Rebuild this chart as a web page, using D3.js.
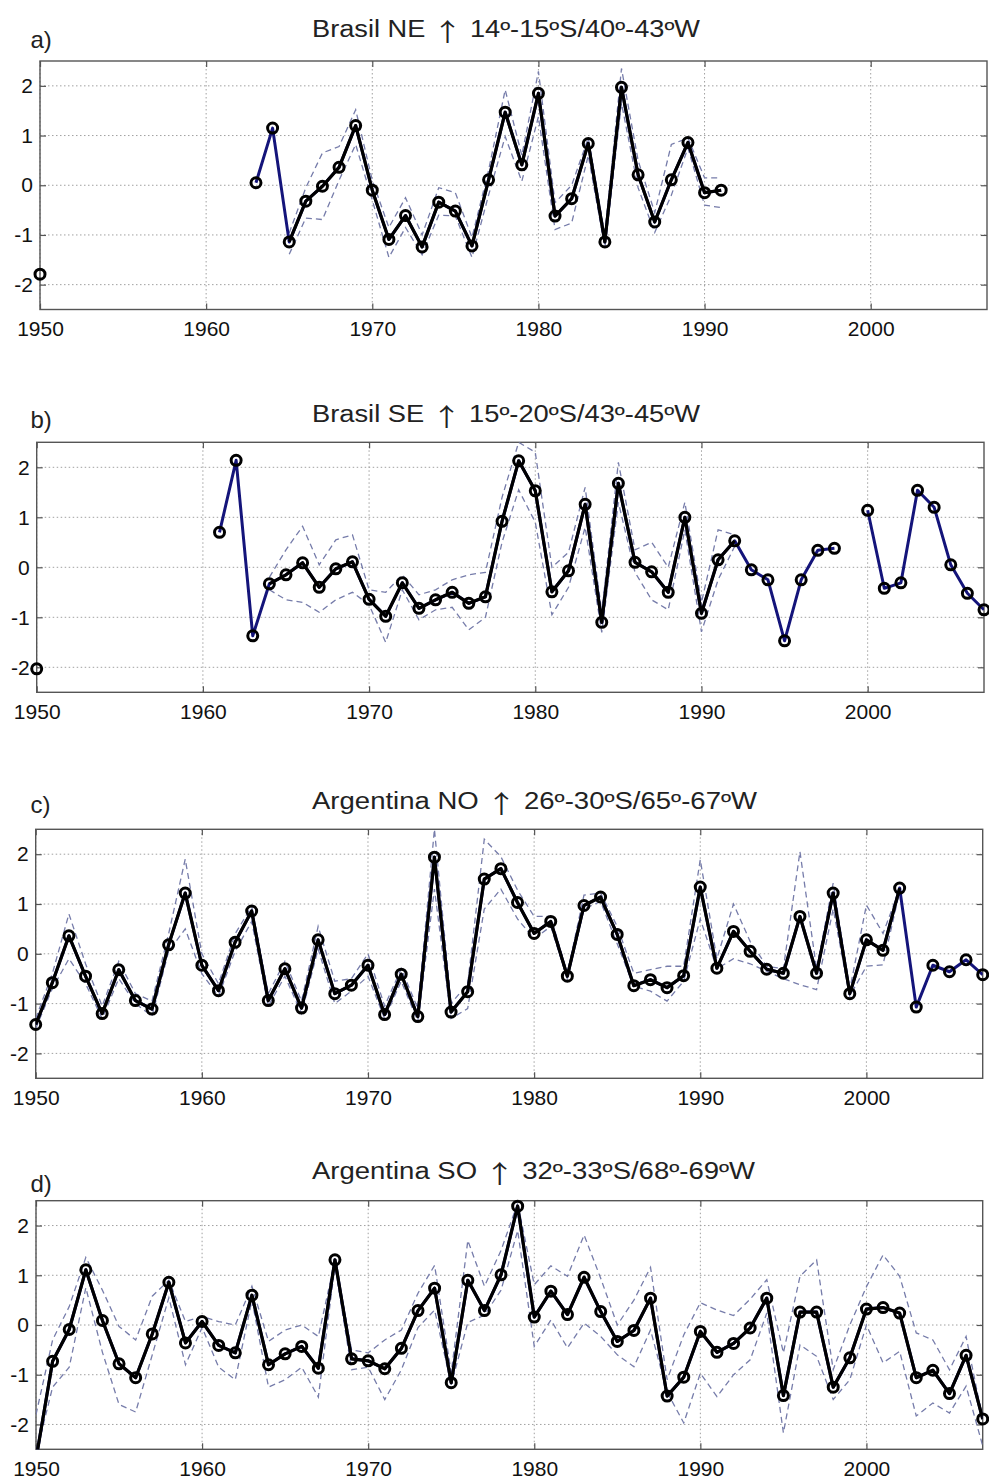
<!DOCTYPE html>
<html><head><meta charset="utf-8">
<script src="https://cdn.jsdelivr.net/npm/d3@7"></script>
<style>body{margin:0;background:#fff}svg{display:block}</style>
</head><body>
<script>
// ---------- data ----------
const years = d3.range(1950, 2008);
const xTicks = [1950, 1960, 1970, 1980, 1990, 2000];
const yTicks = [-2, -1, 0, 1, 2];
const panelLabels = ["a)", "b)", "c)", "d)"];
const titleNames = ["Brasil NE", "Brasil SE", "Argentina NO", "Argentina SO"];
const titleCoords = [
  "14\u00ba-15\u00baS/40\u00ba-43\u00baW",
  "15\u00ba-20\u00baS/43\u00ba-45\u00baW",
  "26\u00ba-30\u00baS/65\u00ba-67\u00baW",
  "32\u00ba-33\u00baS/68\u00ba-69\u00baW"
];
const N = null;
// panel a (1950..2007)
const seriesA = [-1.79, N,N,N,N,N,N,N,N,N,N,N,N,
  0.05, 1.15, -1.14, -0.32, -0.02, 0.36, 1.2, -0.1, -1.09, -0.61, -1.24, -0.34, -0.52, -1.22, 0.11,
  1.47, 0.41, 1.85, -0.62, -0.27, 0.84, -1.14, 1.97, 0.21, -0.74, 0.11, 0.86, -0.15, -0.1,
  N,N,N,N,N,N,N,N,N,N,N,N,N,N,N,N];
const upperA = [N,N,N,N,N,N,N,N,N,N,N,N,N,N,N,
  -0.96, -0.05, 0.65, 0.78, 1.52, 0.1, -0.85, -0.25, -1.0, -0.05, -0.15, -1.05, 0.3,
  1.92, 0.6, 2.29, -0.35, 0.0, 0.95, -1.0, 2.35, 0.5, -0.55, 0.82, 0.95, 0.15, 0.15,
  N,N,N,N,N,N,N,N,N,N,N,N,N,N,N,N];
const lowerA = [N,N,N,N,N,N,N,N,N,N,N,N,N,N,N,
  -1.39, -0.66, -0.69, 0.1, 0.82, -0.3, -1.45, -0.85, -1.4, -0.6, -0.62, -1.45, -0.2,
  0.98, 0.08, 1.38, -0.89, -0.76, 0.6, -1.25, 1.65, -0.05, -0.95, -0.2, 0.75, -0.4, -0.45,
  N,N,N,N,N,N,N,N,N,N,N,N,N,N,N,N];
// panel b
const seriesB = [-2.03, N,N,N,N,N,N,N,N,N,N,
  0.70, 2.14, -1.37, -0.33, -0.15, 0.09, -0.4, -0.03, 0.11,
  -0.64, -0.98, -0.31, -0.82, -0.65, -0.5, -0.72, -0.59, 0.92, 2.13,
  1.53, -0.49, -0.07, 1.26, -1.1, 1.68, 0.1, -0.09, -0.5, 1.0,
  -0.92, 0.15, 0.53, -0.05, -0.25, -1.47, -0.25, 0.34, 0.38, N,
  1.14, -0.42, -0.31, 1.54, 1.2, 0.05, -0.52, -0.85];
const upperB = [N,N,N,N,N,N,N,N,N,N,N,N,N,N,
  -0.2, 0.35, 0.82, 0.05, 0.55, 0.65,
  -0.45, -0.5, -0.15, -0.55, -0.45, -0.25, -0.15, -0.1, 1.4, 2.5,
  2.3, 0.0, 0.3, 1.6, -0.9, 2.1, 0.35, 0.5, 0.0, 1.3,
  -0.7, 0.75, 0.65,
  N,N,N,N,N,N,N,N,N,N,N,N,N,N,N];
const lowerB = [N,N,N,N,N,N,N,N,N,N,N,N,N,N,
  -0.45, -0.65, -0.7, -0.9, -0.65, -0.5,
  -0.75, -1.5, -0.45, -1.05, -0.85, -0.8, -1.25, -1.0, 0.5, 1.55,
  0.9, -0.95, -0.4, 0.8, -1.3, 1.3, -0.1, -0.65, -0.85, 0.75,
  -1.29, -0.25, 0.42,
  N,N,N,N,N,N,N,N,N,N,N,N,N,N,N];
// panel c
const seriesC = [-1.42, -0.58, 0.36, -0.45, -1.2, -0.32, -0.94, -1.11, 0.18, 1.22,
  -0.23, -0.74, 0.23, 0.86, -0.94, -0.3, -1.09, 0.28, -0.8, -0.63,
  -0.23, -1.22, -0.41, -1.26, 1.94, -1.17, -0.76, 1.5, 1.71, 1.03,
  0.41, 0.65, -0.45, 0.97, 1.14, 0.39, -0.64, -0.52, -0.68, -0.44,
  1.34, -0.29, 0.45, 0.05, -0.31, -0.39, 0.75, -0.39, 1.22, -0.8,
  0.28, 0.07, 1.32, -1.07, -0.23, -0.36, -0.12, -0.42];
const upperC = [-1.3, -0.4, 0.8, -0.2, -1.05, -0.15, -0.8, -0.95, 0.4, 1.9,
  0.0, -0.6, 0.4, 0.95, -0.8, -0.15, -0.95, 0.55, -0.55, -0.5,
  0.0, -1.05, -0.3, -1.1, 2.5, -1.0, -0.6, 2.3, 1.95, 1.28,
  0.75, 0.75, -0.4, 1.18, 1.22, 0.55, -0.39, -0.32, -0.25, -0.25,
  1.89, -0.1, 1.0, 0.25, -0.25, -0.3, 2.05, -0.3, 1.42, -0.72,
  0.98, 0.41, 1.3, N,N,N,N,N];
const lowerC = [-1.5, -0.7, -0.1, -0.6, -1.3, -0.5, -1.0, -1.25, 0.05, 0.5,
  -0.4, -0.85, 0.05, 0.65, -1.05, -0.45, -1.2, 0.1, -1.0, -0.75,
  -0.45, -1.3, -0.55, -1.35, 1.3, -1.3, -1.1, 0.9, 1.3, 0.7,
  0.3, 0.55, -0.5, 0.9, 1.05, 0.2, -0.65, -0.75, -0.95, -0.55,
  0.7, -0.3, -0.1, -0.2, -0.35, -0.5, -0.62, -0.72, 0.9, -0.85,
  -0.25, -0.22, 1.25, N,N,N,N,N];
// panel d
const seriesD = [-2.7, -0.73, -0.09, 1.11, 0.09, -0.78, -1.06, -0.18, 0.86, -0.36,
  0.07, -0.41, -0.56, 0.6, -0.8, -0.58, -0.43, -0.87, 1.31, -0.68,
  -0.72, -0.88, -0.47, 0.29, 0.74, -1.16, 0.9, 0.29, 1.01, 2.39,
  0.16, 0.68, 0.21, 0.96, 0.27, -0.33, -0.11, 0.54, -1.43, -1.05,
  -0.13, -0.55, -0.37, -0.06, 0.54, -1.42, 0.26, 0.26, -1.25, -0.66,
  0.32, 0.35, 0.24, -1.06, -0.91, -1.38, -0.61, -1.89];
const upperD = [-1.8, -0.3, 0.37, 1.36, 0.7, -0.03, -0.3, 0.58, 0.9, 0.07,
  0.17, 0.07, 0.0, 0.78, -0.33, -0.1, 0.0, -0.23, 1.3, -0.5,
  -0.56, -0.3, -0.1, 0.64, 1.2, -0.96, 1.7, 0.78, 1.5, 2.45,
  0.81, 1.19, 0.98, 1.81, 0.94, 0.0, 0.5, 1.16, -1.1, -0.2,
  0.45, 0.3, 0.19, 0.52, 0.91, -0.56, 0.98, 1.31, -0.9, 0.0,
  0.77, 1.41, 0.98, -0.16, -0.3, -0.9, -0.23, -1.9];
const lowerD = [-2.6, -1.25, -0.85, 0.75, -0.55, -1.6, -1.75, -0.6, 0.55, -0.8,
  -0.05, -0.85, -1.1, 0.5, -1.25, -1.1, -0.85, -1.45, 1.2, -0.9,
  -0.85, -1.5, -0.9, -0.05, 0.3, -1.2, 0.05, 0.2, 0.7, 1.9,
  -0.43, 0.1, -0.46, 0.04, -0.23, -0.6, -0.84, -0.1, -1.35, -1.97,
  -0.97, -1.44, -1.0, -0.7, 0.24, -2.17, -0.4, -0.63, -1.5, -1.1,
  0.0, -0.76, -0.53, -1.83, -1.57, -1.77, -1.23, -2.43];

const panels = [
  {values: seriesA, upper: upperA, lower: lowerA},
  {values: seriesB, upper: upperB, lower: lowerB},
  {values: seriesC, upper: upperC, lower: lowerC},
  {values: seriesD, upper: upperD, lower: lowerD}
];

// ---------- layout ----------
const layout = [
  {left: 40,   right: 987,   top: 61,     bottom: 309.5,  titleY: 36.5,   labelY: 48,     titleW: 388},
  {left: 36.7, right: 984,   top: 442.3,  bottom: 692.3,  titleY: 421.7,  labelY: 428.3,  titleW: 388},
  {left: 35.7, right: 982.7, top: 829.3,  bottom: 1078.3, titleY: 809.3,  labelY: 812.7,  titleW: 445},
  {left: 36,   right: 982.7, top: 1200.7, bottom: 1449.3, titleY: 1179.3, labelY: 1191.7, titleW: 443}
];
const FONT = "'Liberation Sans', Arial, sans-serif";
const YDOM = [-2.5, 2.5];

const svg = d3.select("body").append("svg")
  .attr("width", 989).attr("height", 1479)
  .style("font-family", FONT);

panels.forEach((p, i) => {
  const L = layout[i];
  const x = d3.scaleLinear().domain([1950, 2007]).range([L.left, L.right]);
  const y = d3.scaleLinear().domain(YDOM).range([L.bottom, L.top]);
  const g = svg.append("g");

  const cid = "clip" + i;
  svg.append("defs").append("clipPath").attr("id", cid)
    .append("rect").attr("x", L.left).attr("y", L.top)
    .attr("width", L.right - L.left).attr("height", L.bottom - L.top);

  // grid
  g.append("g").selectAll("line").data(xTicks).join("line")
    .attr("x1", d => x(d)).attr("x2", d => x(d))
    .attr("y1", L.top).attr("y2", L.bottom)
    .attr("stroke", "#a0a0a0").attr("stroke-width", 1).attr("stroke-dasharray", "1.5,2.5");
  g.append("g").selectAll("line").data(yTicks).join("line")
    .attr("x1", L.left).attr("x2", L.right)
    .attr("y1", d => y(d)).attr("y2", d => y(d))
    .attr("stroke", "#a0a0a0").attr("stroke-width", 1).attr("stroke-dasharray", "1.5,2.5");

  const fmt = d => String(d);   // plain hyphen minus, as in the original
  const ax = [
    g.append("g").attr("transform", `translate(0,${L.bottom})`)
      .call(d3.axisBottom(x).tickValues(xTicks).tickFormat(fmt).tickSize(-6).tickSizeOuter(0).tickPadding(12)),
    g.append("g").attr("transform", `translate(0,${L.top})`)
      .call(d3.axisTop(x).tickValues(xTicks).tickFormat("").tickSize(-6).tickSizeOuter(0)),
    g.append("g").attr("transform", `translate(${L.left},0)`)
      .call(d3.axisLeft(y).tickValues(yTicks).tickFormat(fmt).tickSize(-6).tickSizeOuter(0).tickPadding(7)),
    g.append("g").attr("transform", `translate(${L.right},0)`)
      .call(d3.axisRight(y).tickValues(yTicks).tickFormat("").tickSize(-6).tickSizeOuter(0))
  ];
  ax.forEach(a => {
    a.select(".domain").remove();
    a.selectAll(".tick line").attr("stroke", "#555").attr("stroke-width", 1.2);
    a.selectAll("text").attr("font-family", FONT).attr("font-size", 21).attr("fill", "#111");
  });

  g.append("rect").attr("x", L.left).attr("y", L.top)
    .attr("width", L.right - L.left).attr("height", L.bottom - L.top)
    .attr("fill", "none").attr("stroke", "#555").attr("stroke-width", 1.4);

  const plot = g.append("g").attr("clip-path", `url(#${cid})`);
  const idx = years.map((yr, k) => k);

  [p.upper, p.lower].forEach(arr => {
    plot.append("path").datum(idx)
      .attr("d", d3.line().defined(k => arr[k] != null).x(k => x(years[k])).y(k => y(arr[k])))
      .attr("fill", "none").attr("stroke", "#767caa").attr("stroke-width", 1.3)
      .attr("stroke-dasharray", "6,4");
  });

  plot.append("path").datum(idx)
    .attr("d", d3.line().defined(k => p.values[k] != null).x(k => x(years[k])).y(k => y(p.values[k])))
    .attr("fill", "none").attr("stroke", "#14147a").attr("stroke-width", 3).attr("stroke-linejoin", "round");

  plot.append("path").datum(idx)
    .attr("d", d3.line().defined(k => p.values[k] != null && p.upper[k] != null)
      .x(k => x(years[k])).y(k => y(p.values[k])))
    .attr("fill", "none").attr("stroke", "#000").attr("stroke-width", 3.2).attr("stroke-linejoin", "round");

  // markers (not clipped; only values inside the y range)
  g.append("g").selectAll("circle")
    .data(idx.filter(k => p.values[k] != null && p.values[k] >= YDOM[0] && p.values[k] <= YDOM[1]))
    .join("circle")
    .attr("cx", k => x(years[k])).attr("cy", k => y(p.values[k])).attr("r", 5)
    .attr("fill", "none").attr("stroke", "#000").attr("stroke-width", 3);

  // title with tall arrow
  const t = svg.append("text").attr("x", 312).attr("y", L.titleY)
    .attr("font-size", 23).attr("fill", "#222")
    .attr("textLength", L.titleW).attr("lengthAdjust", "spacingAndGlyphs");
  t.append("tspan").text(titleNames[i] + " ");
  t.append("tspan").attr("font-family", "'Noto Sans CJK JP', 'DejaVu Sans', sans-serif")
    .attr("font-size", 25).attr("dy", 4).text("\u2191");
  t.append("tspan").attr("dy", -4).text(" " + titleCoords[i]);

  svg.append("text").attr("x", 30.5).attr("y", L.labelY)
    .attr("font-size", 24).attr("fill", "#222")
    .text(panelLabels[i]);
});
</script>
</body></html>
